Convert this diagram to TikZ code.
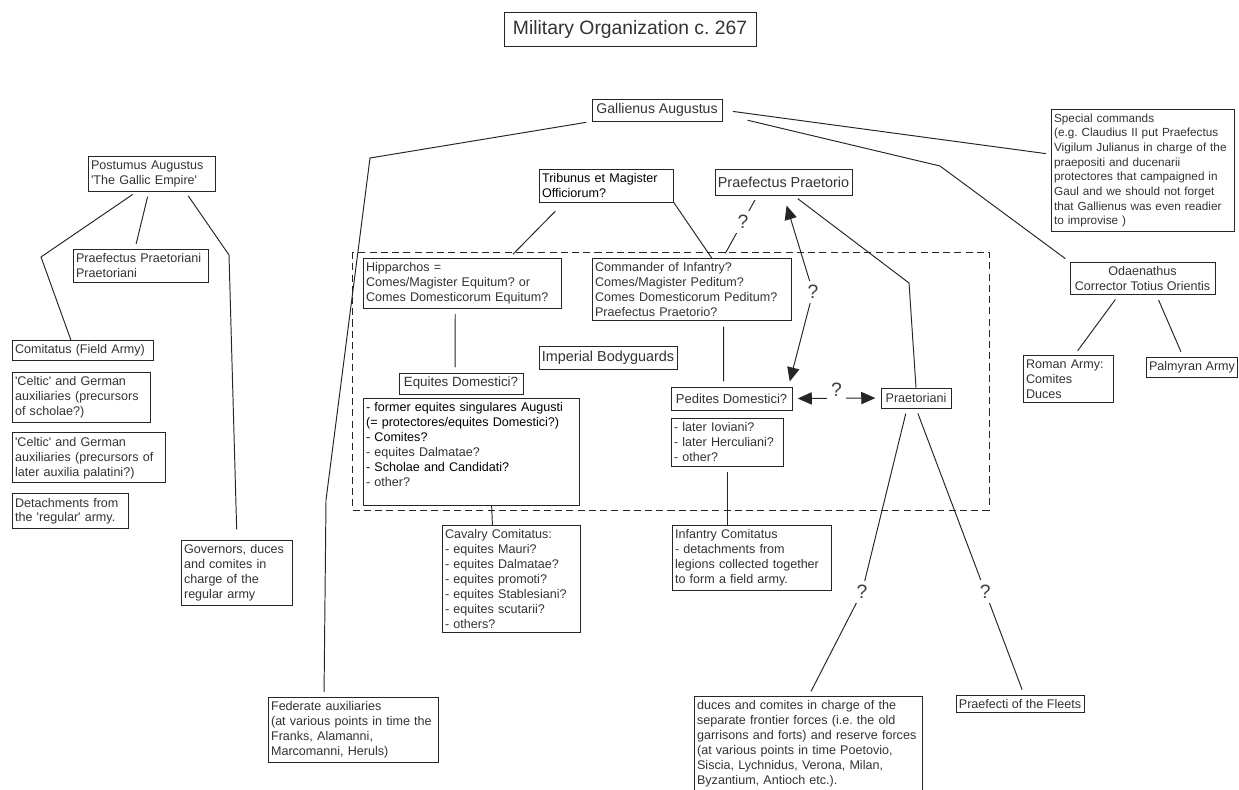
\documentclass[tikz,border=0pt]{standalone}
\usepackage{fontspec}
\setmainfont{Liberation Sans}
\usetikzlibrary{positioning, calc, arrows.meta}
\newcommand{\qs}{\textquotesingle}
\newcommand{\dark}[1]{\textcolor{black}{#1}}
\frenchspacing

\begin{document}
\begin{tikzpicture}[
    x=0.02cm, y=-0.02cm,
    base/.style={rectangle, draw=black!85, fill=white, line width=0.5pt, anchor=north west, align=left,
        inner xsep=1.5pt, inner ysep=2.4pt, text=black!80, font=\fontsize{7.15}{8.5}\selectfont},
    plainbox/.style={base, anchor=center, align=center},
    heading/.style={plainbox, font=\fontsize{11}{13}\selectfont},
    conn/.style={draw=black!85, line width=0.55pt, shorten <=3pt, shorten >=3pt},
    biarrow/.style={conn, <->, >={Triangle[length=8pt, width=7pt]}},
    qmark/.style={fill=white, inner sep=2.5pt, font=\fontsize{11}{13}\selectfont, text=black!75},
    guard/.style={draw=black!85, line width=0.55pt, dash pattern=on 4pt off 2.4pt}
]

\useasboundingbox (0,0) rectangle (1239,789);

% Bodyguard frame
\draw[guard] (352,252) rectangle (989,510);

% Title and emperor
\node[heading, minimum width=5.04cm, minimum height=0.68cm] (title) at (630,29) {Military Organization c. 267};
\node[plainbox, font=\fontsize{8}{9.5}\selectfont, minimum width=2.6cm, minimum height=0.44cm] (gallienus) at (657,110) {Gallienus Augustus};

% Gallic Empire
\node[base, text width=69.2pt] (postumus) at (88,156) {Postumus Augustus\\\qs The Gallic Empire\qs};
\node[base, text width=73.8pt] (praetpost) at (73,249) {Praefectus Praetoriani\\Praetoriani};
\node[base, text width=77.2pt] (comitatus) at (12,340) {Comitatus (Field Army)};
\node[base, text width=75.5pt, below right=0.21cm and 0cm of comitatus.south west] (celtic1) {\qs Celtic\qs\ and German\\auxiliaries (precursors\\of scholae?)};
\node[base, text width=84pt, below right=0.2cm and 0cm of celtic1.south west] (celtic2) {\qs Celtic\qs\ and German\\auxiliaries (precursors of\\later auxilia palatini?)};
\node[base, text width=63pt, below right=0.2cm and 0cm of celtic2.south west] (detach) {Detachments from\\the \qs regular\qs\ army.};
\node[base, text width=60.2pt] (governors) at (181,540) {Governors, duces\\and comites in\\charge of the\\regular army};
\node[base, text width=94pt] (federate) at (268,697) {Federate auxiliaries\\(at various points in time the\\Franks, Alamanni,\\Marcomanni, Heruls)};

% Central command
\node[base, text width=73.2pt, text=black] (tribunus) at (539,169) {Tribunus et Magister\\Officiorum?};
\node[plainbox, font=\fontsize{8.2}{9.5}\selectfont, minimum width=2.74cm, minimum height=0.52cm] (praefpraet) at (783.5,182) {Praefectus Praetorio};
\node[base, text width=109.5pt] (hipparchos) at (363,258) {Hipparchos =\\Comes/Magister Equitum? or\\Comes Domesticorum Equitum?};
\node[base, text width=110pt] (commander) at (592,258) {Commander of Infantry?\\Comes/Magister Peditum?\\Comes Domesticorum Peditum?\\Praefectus Praetorio?};
\node[plainbox, font=\fontsize{8.2}{9.5}\selectfont, minimum width=2.76cm, minimum height=0.46cm] (bodyguards) at (608,357.5) {Imperial Bodyguards};
\node[plainbox, font=\fontsize{7.6}{9}\selectfont, minimum width=2.48cm, minimum height=0.42cm] (eqdom) at (461,383.5) {Equites Domestici?};
\node[base, text width=120.2pt] (former) at (363,398) {\dark{- former equites singulares Augusti}\\\dark{(= protectores/equites Domestici?)}\\\dark{- Comites?}\\- equites Dalmatae?\\\dark{- Scholae and Candidati?}\\- other?\\\mbox{}};
\node[plainbox, font=\fontsize{7.4}{9}\selectfont, minimum width=2.42cm, minimum height=0.46cm] (peddom) at (731.5,398.5) {Pedites Domestici?};
\node[base, text width=60.7pt] (later) at (671,418) {- later Ioviani?\\- later Herculiani?\\- other?};
\node[plainbox, minimum width=1.4cm, minimum height=0.4cm] (praetoriani) at (916,398) {Praetoriani};

% Field armies and frontier
\node[base, text width=75.5pt] (cavalry) at (442,525) {Cavalry Comitatus:\\- equites Mauri?\\- equites Dalmatae?\\- equites promoti?\\- equites Stablesiani?\\- equites scutarii?\\- others?};
\node[base, text width=87.4pt] (infantry) at (672,525) {Infantry Comitatus\\- detachments from\\legions collected together\\to form a field army.};
\node[base, text width=127pt] (duces) at (694,696) {duces and comites in charge of the\\separate frontier forces (i.e. the old\\garrisons and forts) and reserve forces\\(at various points in time Poetovio,\\Siscia, Lychnidus, Verona, Milan,\\Byzantium, Antioch etc.).};
\node[plainbox, inner ysep=1.6pt, minimum width=2.56cm, minimum height=0.34cm] (fleets) at (1020,703.5) {Praefecti of the Fleets};

% East
\node[base, font=\fontsize{6.7}{8.35}\selectfont, text width=101pt] (special) at (1051,109) {Special commands\\(e.g. Claudius II put Praefectus\\Vigilum Julianus in charge of the\\praepositi and ducenarii\\protectores that campaigned in\\Gaul and we should not forget\\that Gallienus was even readier\\to improvise )};
\node[plainbox, minimum width=2.9cm, minimum height=0.62cm] (odaenathus) at (1142.5,278.5) {Odaenathus\\Corrector Totius Orientis};
\node[base, text width=48.3pt] (romanarmy) at (1023,355) {Roman Army:\\Comites\\Duces};
\node[plainbox, minimum width=1.8cm, minimum height=0.4cm] (palmyran) at (1192,367) {Palmyran Army};

% Lines from Gallienus
\coordinate (gbend) at (370,158);
\coordinate (gdrop) at (326,500);
\draw[conn] (gallienus.south west) -- (gbend) -- (gdrop) -- ($(federate.north west)+(56,0)$);
\draw[conn, shorten <=6pt] (gallienus.east) -- (special.170);
\coordinate (obend) at (940,166);
\draw[conn] ($(gallienus.east)+(20,9)$) -- (obend) -- (odaenathus.north west);

% Odaenathus
\draw[conn] ($(odaenathus.south)+(-24,0)$) -- ($(romanarmy.north)+(6,0)$);
\draw[conn] ($(odaenathus.south)+(14,0)$) -- ($(palmyran.north)+(-9,0)$);

% Postumus
\coordinate (pbend1) at (41,257);
\draw[conn, shorten >=0pt] (postumus.230) -- (pbend1) -- ($(comitatus.north)+(-12,0)$);
\draw[conn] ($(postumus.south)+(-3,0)$) -- ($(praetpost.north)+(-6,0)$);
\coordinate (pbend2) at (229,255);
\draw[conn, shorten >=6pt] (postumus.-28) -- (pbend2) -- (governors.north);

% Central command
\draw[conn] ($(tribunus.south west)+(20,5)$) -- ($(hipparchos.north)+(47,0)$);
\draw[conn, shorten <=0pt, shorten >=0pt] (tribunus.south east) -- ($(commander.north)+(20,0)$);
\draw[conn] ($(praefpraet.south)+(-26,0)$) -- node[qmark, pos=0.42] (qa) {?} ($(commander.north)+(31,0)$);
\coordinate (qbend) at (813,292);
\draw[biarrow, shorten <=6pt, shorten >=3pt] (praefpraet.south) -- (qbend) -- ($(peddom.north east)+(-4,0)$);
\node[qmark] (qb) at (qbend) {?};
\draw[biarrow] (peddom.east) -- node[qmark, yshift=5pt] (qc) {?} (praetoriani.west);
\coordinate (rbend) at (909,283);
\draw[conn, shorten >=0pt] ($(praefpraet.south)+(10,0)$) -- (rbend) -- (praetoriani.north);
\draw[conn] ($(commander.south)+(32,0)$) -- ($(peddom.north)+(-8,0)$);
\draw[conn] ($(hipparchos.south)+(-7,0)$) -- ($(eqdom.north)+(-6,0)$);
\draw[conn, shorten <=0pt, shorten >=0pt] ($(former.south)+(20,0)$) -- ($(cavalry.north)+(-19,0)$);
\draw[conn, shorten >=0pt] (later.south) -- (later.south |- infantry.north);

% Praetoriani to frontier and fleets
\coordinate (sbend) at (862,592);
\draw[conn] ($(praetoriani.south)+(-9,0)$) -- (sbend) -- (duces.north);
\node[qmark] (qd) at (sbend) {?};
\draw[conn] (praetoriani.south) -- node[qmark, pos=0.64] (qe) {?} ($(fleets.north)+(4,0)$);

\end{tikzpicture}
\end{document}
